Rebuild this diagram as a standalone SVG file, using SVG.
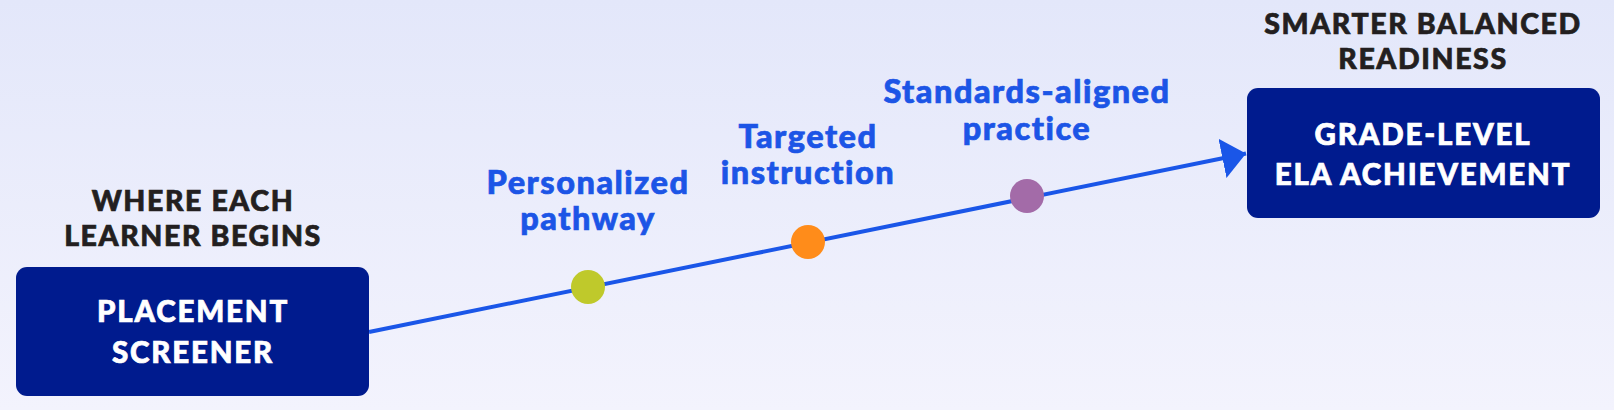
<svg xmlns="http://www.w3.org/2000/svg" width="1614" height="410" viewBox="0 0 1614 410">
<defs>
<linearGradient id="bg" x1="0" y1="0" x2="0" y2="1">
<stop offset="0" stop-color="#E3E7FA"/>
<stop offset="1" stop-color="#F3F3FD"/>
</linearGradient>
<marker id="arr" markerUnits="userSpaceOnUse" markerWidth="26" markerHeight="42" refX="24" refY="20" orient="auto" viewBox="0 0 26 42">
<path d="M0,0 L24,20 L0,40 Z" fill="#1A56E8"/>
</marker>
<style>
.box{fill:#001B8E;}
.hdr{font-family:Lato,"Open Sans",sans-serif;font-weight:900;font-size:28.5px;fill:#231F20;stroke:#231F20;stroke-width:0.7px;text-anchor:middle;letter-spacing:1.6px;}
.btx{font-family:Lato,"Open Sans",sans-serif;font-weight:900;font-size:29.5px;fill:#FFFFFF;stroke:#FFFFFF;stroke-width:0.7px;text-anchor:middle;letter-spacing:1.8px;}
.lbl{font-family:Lato,"Open Sans",sans-serif;font-weight:900;font-size:32.5px;fill:#1C55E6;stroke:#1C55E6;stroke-width:0.7px;text-anchor:middle;letter-spacing:1.5px;}
.conn{stroke:#1A56E8;stroke-width:4;fill:none;}
</style>
</defs>
<rect width="1614" height="410" fill="url(#bg)"/>
<g id="connectors">
<line class="conn" x1="369" y1="332" x2="1246" y2="153.5" marker-end="url(#arr)"/>
</g>
<g id="start">
<text class="hdr" x="193" y="211">WHERE EACH</text>
<text class="hdr" x="193" y="246">LEARNER BEGINS</text>
<rect class="box" x="16" y="267" width="353" height="129" rx="11"/>
<text class="btx" x="193" y="322">PLACEMENT</text>
<text class="btx" x="193" y="363">SCREENER</text>
</g>
<g id="end">
<text class="hdr" x="1423" y="34">SMARTER BALANCED</text>
<text class="hdr" x="1423" y="69">READINESS</text>
<rect class="box" x="1247" y="88" width="353" height="130" rx="11"/>
<text class="btx" x="1423" y="145">GRADE-LEVEL</text>
<text class="btx" x="1423" y="185">ELA ACHIEVEMENT</text>
</g>
<g id="step1">
<circle cx="588" cy="287" r="17" fill="#BFC92B"/>
<text class="lbl" x="588" y="194">Personalized</text>
<text class="lbl" x="588" y="230">pathway</text>
</g>
<g id="step2">
<circle cx="808" cy="242" r="17" fill="#FF8C1A"/>
<text class="lbl" x="808" y="148">Targeted</text>
<text class="lbl" x="808" y="184">instruction</text>
</g>
<g id="step3">
<circle cx="1027" cy="196" r="17" fill="#A36BA8"/>
<text class="lbl" x="1027" y="103">Standards-aligned</text>
<text class="lbl" x="1027" y="140">practice</text>
</g>
</svg>
